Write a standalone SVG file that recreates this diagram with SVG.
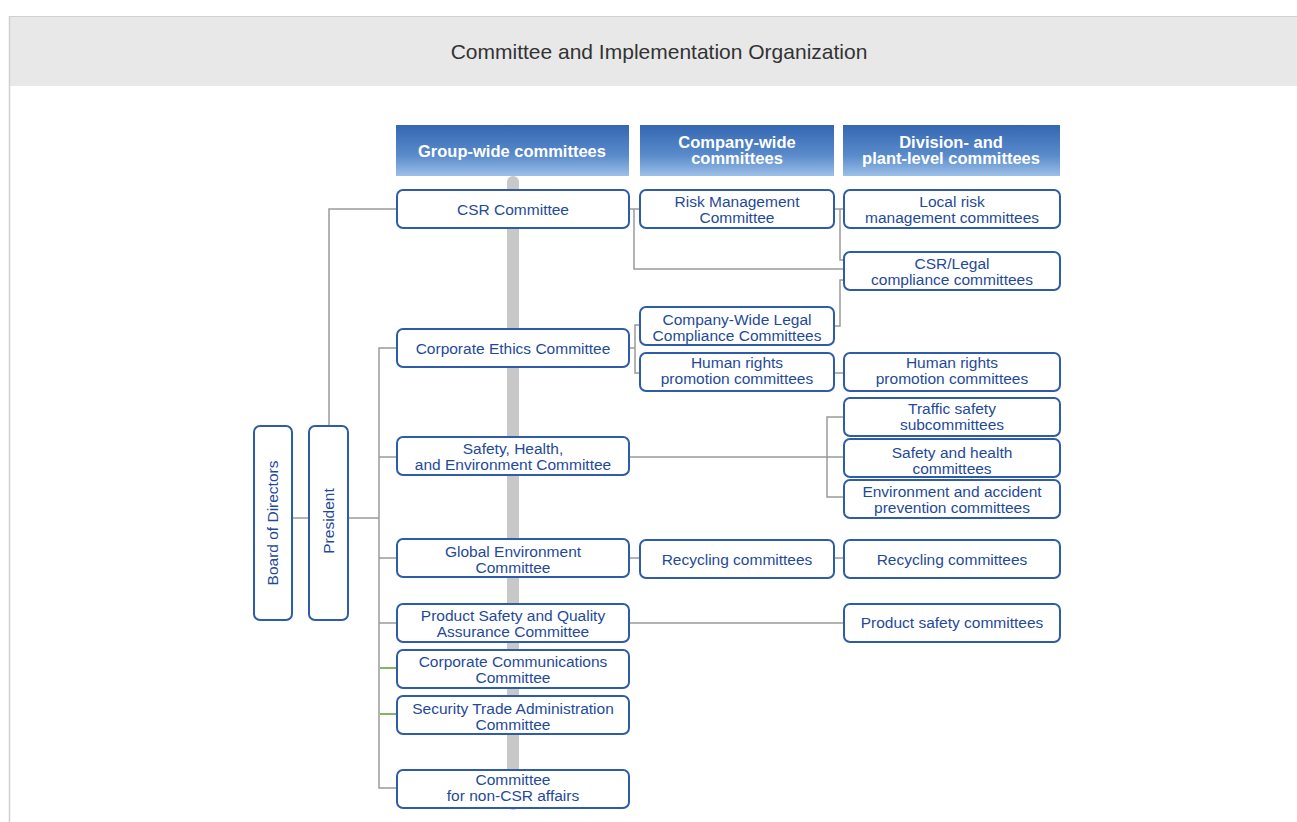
<svg xmlns="http://www.w3.org/2000/svg" width="1297" height="822" viewBox="0 0 1297 822">
<defs>
<linearGradient id="hg" x1="0" y1="0" x2="0" y2="1">
<stop offset="0" stop-color="#3467b2"/>
<stop offset="0.6" stop-color="#5a8bcb"/>
<stop offset="1" stop-color="#9cc0e8"/>
</linearGradient>
<style>
.box{fill:#fff;stroke:#2f5ca8;stroke-width:2}
.t{font-family:"Liberation Sans",Arial,sans-serif;font-size:15.5px;fill:#1f4a9a;text-anchor:middle}
.h{font-family:"Liberation Sans",Arial,sans-serif;font-size:16.5px;font-weight:bold;fill:#fff;text-anchor:middle}
.c{fill:none;stroke:#9a9a9a;stroke-width:1.5}
.g{fill:none;stroke:#5aa02c;stroke-width:1.5}
</style>
</defs>
<rect x="0" y="0" width="1297" height="822" fill="#fff"/>
<g id="panel">
<rect x="9" y="16" width="1288" height="70" fill="#e8e8e8"/>
<line x1="9" y1="16.5" x2="1297" y2="16.5" stroke="#d0d0d0" stroke-width="1"/>
<line x1="9.5" y1="16" x2="9.5" y2="822" stroke="#d0d0d0" stroke-width="1.5"/>
<text x="659" y="59" font-family="'Liberation Sans',Arial,sans-serif" font-size="21" fill="#333" text-anchor="middle">Committee and Implementation Organization</text>
</g>
<g id="headers">
<rect x="396" y="125" width="233" height="51" fill="url(#hg)"/>
<text class="h" x="512" y="157">Group-wide committees</text>
<rect x="640" y="125" width="194" height="51" fill="url(#hg)"/>
<text class="h" x="737" y="148">Company-wide</text>
<text class="h" x="737" y="164">committees</text>
<rect x="843" y="125" width="217" height="51" fill="url(#hg)"/>
<text class="h" x="951" y="148">Division- and</text>
<text class="h" x="951" y="164">plant-level committees</text>
</g>
<rect id="bar" x="507" y="176" width="12" height="634" rx="6" fill="#c8c8c8"/>
<g id="connectors">
<path class="c" d="M292 518H309"/>
<path class="c" d="M329 426V209H397"/>
<path class="c" d="M348 518H379"/>
<path class="c" d="M397 348H379V788H397"/>
<path class="c" d="M379 457H397M379 558H397M379 623H397"/>
<path class="g" d="M380 668H397M380 714H397"/>
<path class="c" d="M629 209H640M634 209V269H844"/>
<path class="c" d="M834 209H844M840 209V260H844"/>
<path class="c" d="M834 326H840V280H844"/>
<path class="c" d="M629 348H635M640 325H635V373H640"/>
<path class="c" d="M834 373H844"/>
<path class="c" d="M629 457H844M844 417H827V497H844"/>
<path class="c" d="M629 558H640M834 558H844"/>
<path class="c" d="M629 623H844"/>
</g>
<g id="board"><rect class="box" x="254" y="426" width="38" height="194" rx="6"/><text class="t" transform="translate(277.5 523) rotate(-90)">Board of Directors</text></g>
<g id="president"><rect class="box" x="309" y="426" width="39" height="194" rx="6"/><text class="t" transform="translate(333.5 521) rotate(-90)">President</text></g>
<g id="csr"><rect class="box" x="397" y="190" width="232" height="38" rx="6"/><text class="t" x="513" y="215">CSR Committee</text></g>
<g id="ethics"><rect class="box" x="397" y="329" width="232" height="38" rx="6"/><text class="t" x="513" y="353.5">Corporate Ethics Committee</text></g>
<g id="she"><rect class="box" x="397" y="437" width="232" height="38" rx="6"/><text class="t" x="513" y="453.5">Safety, Health,</text><text class="t" x="513" y="469.5">and Environment Committee</text></g>
<g id="global"><rect class="box" x="397" y="539" width="232" height="38" rx="6"/><text class="t" x="513" y="556.5">Global Environment</text><text class="t" x="513" y="572.5">Committee</text></g>
<g id="product"><rect class="box" x="397" y="604" width="232" height="38" rx="6"/><text class="t" x="513" y="620.5">Product Safety and Quality</text><text class="t" x="513" y="636.5">Assurance Committee</text></g>
<g id="comms"><rect class="box" x="397" y="650" width="232" height="38" rx="6"/><text class="t" x="513" y="666.5">Corporate Communications</text><text class="t" x="513" y="682.5">Committee</text></g>
<g id="security"><rect class="box" x="397" y="696" width="232" height="38" rx="6"/><text class="t" x="513" y="713.5">Security Trade Administration</text><text class="t" x="513" y="729.5">Committee</text></g>
<g id="noncsr"><rect class="box" x="397" y="770" width="232" height="38" rx="6"/><text class="t" x="513" y="784.5">Committee</text><text class="t" x="513" y="800.5">for non-CSR affairs</text></g>
<g id="risk"><rect class="box" x="640" y="190" width="194" height="38" rx="6"/><text class="t" x="737" y="206.5">Risk Management</text><text class="t" x="737" y="222.5">Committee</text></g>
<g id="cwlegal"><rect class="box" x="640" y="307" width="194" height="38" rx="6"/><text class="t" x="737" y="324.5">Company-Wide Legal</text><text class="t" x="737" y="340.5">Compliance Committees</text></g>
<g id="hr2"><rect class="box" x="640" y="353" width="194" height="38" rx="6"/><text class="t" x="737" y="367.5">Human rights</text><text class="t" x="737" y="383.5">promotion committees</text></g>
<g id="recyc2"><rect class="box" x="640" y="540" width="194" height="38" rx="6"/><text class="t" x="737" y="564.5">Recycling committees</text></g>
<g id="localrisk"><rect class="box" x="844" y="190" width="216" height="38" rx="6"/><text class="t" x="952" y="206.5">Local risk</text><text class="t" x="952" y="222.5">management committees</text></g>
<g id="csrlegal"><rect class="box" x="844" y="252" width="216" height="38" rx="6"/><text class="t" x="952" y="268.5">CSR/Legal</text><text class="t" x="952" y="284.5">compliance committees</text></g>
<g id="hr3"><rect class="box" x="844" y="353" width="216" height="38" rx="6"/><text class="t" x="952" y="367.5">Human rights</text><text class="t" x="952" y="383.5">promotion committees</text></g>
<g id="traffic"><rect class="box" x="844" y="398" width="216" height="38" rx="6"/><text class="t" x="952" y="413.5">Traffic safety</text><text class="t" x="952" y="429.5">subcommittees</text></g>
<g id="sh"><rect class="box" x="844" y="439" width="216" height="38" rx="6"/><text class="t" x="952" y="457.5">Safety and health</text><text class="t" x="952" y="473.5">committees</text></g>
<g id="env"><rect class="box" x="844" y="480" width="216" height="38" rx="6"/><text class="t" x="952" y="496.5">Environment and accident</text><text class="t" x="952" y="512.5">prevention committees</text></g>
<g id="recyc3"><rect class="box" x="844" y="540" width="216" height="38" rx="6"/><text class="t" x="952" y="564.5">Recycling committees</text></g>
<g id="prodsafe"><rect class="box" x="844" y="604" width="216" height="38" rx="6"/><text class="t" x="952" y="627.5">Product safety committees</text></g>
</svg>
